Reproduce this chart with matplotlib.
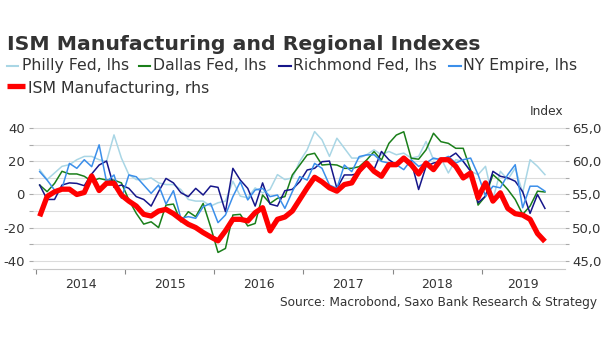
import matplotlib
matplotlib.use("Agg")
import matplotlib.pyplot as plt
from matplotlib.lines import Line2D
import numpy as np

# monthly readings, Jan 2014 - Sep 2019
philly = [15, 9, 13, 17, 18, 21, 23, 23, 21, 20, 36, 22,
          12, 9, 9, 10, 7, 6, 6, 3, -3, -4, -4, -7,
          -5, -4, 8, -1, -2, 4, 1, 3, 12, 9, 10, 20,
          27, 38, 33, 23, 34, 28, 22, 22, 24, 27, 24, 26,
          24, 25, 22, 23, 32, 21, 22, 13, 21, 20, 14, 12,
          17, -3, 14, 9, 16, 1, 21, 17, 12]
dallas = [5.7, 1.7, 6.7, 14, 12.4, 12.4, 11, 8, 9.7, 8.7, 8.7, 7,
          -3.3, -11.4, -17.9, -16.5, -20, -6.4, -5.8, -16.5, -10.4, -13.4, -5.4, -19.5,
          -35, -32.6, -12.4, -12, -19, -17.5, -0.3, -5.4, -2.3, -1.3, 11.8, 17.8,
          23.9, 24.9, 17.8, 18.2, 17.8, 15.8, 15.8, 16.8, 20.8, 25.9, 20.8, 30.9,
          35.9, 37.9, 21.9, 21.3, 27, 37, 31.9, 30.9, 27.9, 27.9, 14.8, -6.4,
          -1, 12, 8, 3, -3, -12, -7, 2, 1.5]
richmond = [5.7, -3, -3, 5.7, 7, 6.7, 5.3, 12.4, 17.8, 20.2, 4.3, 5.7,
            3.7, -1.3, -3, -7, 1.7, 9.7, 7, 1.1, -1.3, 3.7, -0.3, 5.1,
            4.3, -10.4, 15.8, 8.7, 3.7, -7, 7, -5.8, -7, 2.3, 3.1, 7.7,
            14.8, 15.8, 19.8, 20.2, 3.7, 11.8, 11.8, 12.8, 18.8, 15, 26, 21,
            18, 22, 20, 3, 17, 19, 20, 22, 25, 20, 14, -5,
            -1, 14, 11, 10, 8, 1.7, -11.4, 0, -8.4]
empire = [13.8, 8.7, 2.7, 3.7, 18.8, 15.8, 21, 16.8, 30, 7.7, 11.8, -2.3,
          11.8, 10.7, 5.7, 0.7, 5.7, -5.8, 2.3, -14.4, -13.4, -14.4, -7.4, -5.4,
          -17, -12.4, -1.3, 7.7, -3.3, 2.7, 3.7, -1.3, -0.3, -8.4, 1.7, 10.8,
          8.7, 18.8, 15.8, 5.7, 3.7, 17.8, 13.8, 22.9, 23.9, 24, 20, 19,
          18, 15, 21, 17, 19, 22, 21, 23, 19, 21, 22, 12,
          -1, 5, 4, 12, 18, -8, 5, 5, 2]
ism = [51.7, 54.7, 55.4, 55.8, 55.8, 55.0, 55.3, 57.8, 55.6, 56.7, 56.7, 54.9,
       54.0, 53.25, 52.0, 51.75, 52.5, 52.75, 52.1, 51.25, 50.5, 50.0, 49.25, 48.6,
       48.0, 49.5, 51.25, 51.25, 51.0, 52.25, 53.0, 49.5, 51.25, 51.6, 52.5, 54.25,
       56.0, 57.6, 56.9, 56.0, 55.5, 56.5, 56.75, 58.6, 59.75, 58.5, 57.75, 59.5,
       59.5, 60.5, 59.5, 58.1, 59.75, 58.75, 60.25, 60.25, 59.25, 57.5, 58.25, 54.5,
       56.75, 54.0, 55.25, 52.9, 52.1, 51.9, 51.25, 49.1, 47.9]
years = ['2014', '2015', '2016', '2017', '2018', '2019']

series = [(philly, '#a9d6e5', 'Philly Fed, lhs'),
          (dallas, '#1a7f1a', 'Dallas Fed, lhs'),
          (richmond, '#16168a', 'Richmond Fed, lhs'),
          (empire, '#3b8fea', 'NY Empire, lhs')]
red = '#ff0000'
txt = '#333333'

W, H = 605, 341
fig = plt.figure(figsize=(W / 100, H / 100), dpi=100)
ax = fig.add_axes([33 / W, 1 - 269.3 / H, 532 / W, 149.3 / H])
ax2 = ax.twinx()

x = np.arange(len(ism)) + 0.5
for vals, col, lab in series:
    ax.plot(x, vals, color=col, lw=1.1, zorder=3)
ax2.plot(x, ism, color=red, lw=3.8, solid_capstyle='butt', zorder=3)

ylo, yhi = -45.2, 45
ax.set_ylim(ylo, yhi)
ax2.set_ylim(55 + ylo / 4, 55 + yhi / 4)
ax.set_xlim(-0.4, 71.2)

lt = np.arange(-40, 41, 10)
ax.set_yticks(lt)
ax.set_yticklabels([str(v) if v % 20 == 0 else '' for v in lt])
rt = np.arange(45, 65.1, 2.5)
ax2.set_yticks(rt)
ax2.set_yticklabels([('%.1f' % v).replace('.', ',') if v % 5 == 0 else '' for v in rt])

ax.set_xticks(np.arange(0, 61, 12))
ax.set_xticklabels([])
ax.set_xticks([6, 18, 30, 42, 54, 65.6], minor=True)
ax.set_xticklabels(years, minor=True)
ax.tick_params(axis='x', which='major', length=3.5, color='#888888', direction='out')
ax.tick_params(axis='x', which='minor', length=0, pad=6, labelsize=9, labelcolor=txt)
ax.tick_params(axis='y', length=3, color='#aaaaaa', pad=3, labelsize=9.5, labelcolor=txt)
ax2.tick_params(axis='y', length=3, color='#aaaaaa', pad=2, labelsize=9.5, labelcolor=txt)

ax.grid(axis='y', color='#dcdcdc', lw=0.8)
ax.set_axisbelow(True)
for a in (ax, ax2):
    for s in ('top', 'left', 'right'):
        a.spines[s].set_visible(False)
    a.patch.set_visible(False)
ax.spines['bottom'].set_color('#c8c8c8')
ax2.spines['bottom'].set_visible(False)

# title and legend
fig.text(7 / W, 1 - 50 / H, 'ISM Manufacturing and Regional Indexes', fontsize=14.7,
         fontweight='bold', color=txt, va='baseline')
pos = [(7, 18, 21.7), (139, 150, 153), (279, 291, 293), (449, 461, 463)]
for (vals, col, lab), (h0, h1, tx) in zip(series, pos):
    fig.add_artist(Line2D([h0 / W, h1 / W], [1 - 66 / H] * 2, color=col, lw=1.5))
    fig.text(tx / W, 1 - 70 / H, lab, fontsize=11.3, color=txt, va='baseline')
fig.add_artist(Line2D([7 / W, 25 / W], [1 - 86 / H] * 2, color=red, lw=3.8, solid_capstyle='butt'))
fig.text(28 / W, 1 - 93 / H, 'ISM Manufacturing, rhs', fontsize=11.3, color=txt, va='baseline')

fig.text(563 / W, 1 - 112 / H, 'Index', fontsize=8.8, color=txt, ha='right', va='center')
fig.text(597 / W, 1 - 306 / H, 'Source: Macrobond, Saxo Bank Research & Strategy',
         fontsize=8.7, color=txt, ha='right', va='baseline')

fig.savefig('out.png', dpi=100)
